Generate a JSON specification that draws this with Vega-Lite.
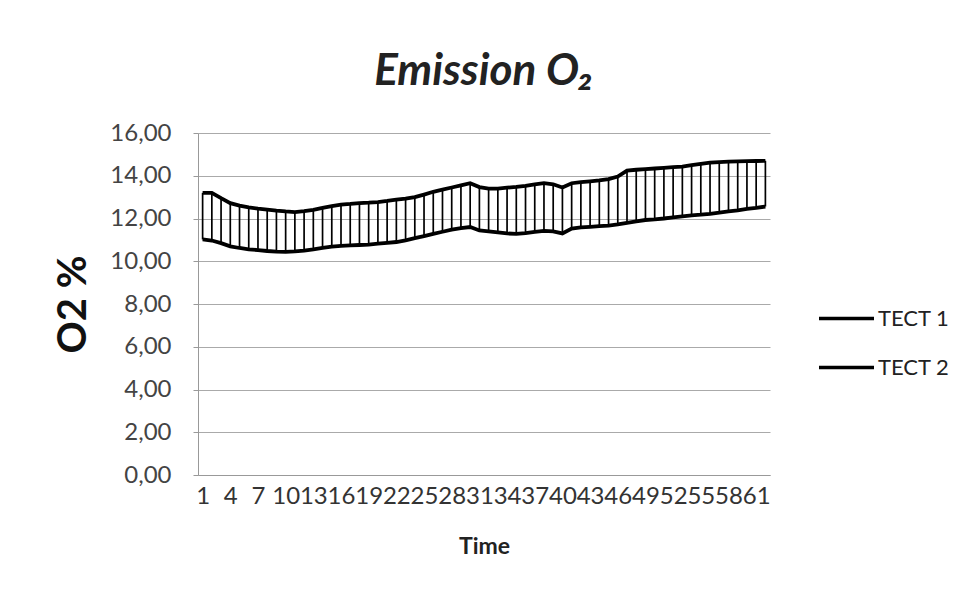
{
  "$schema": "https://vega.github.io/schema/vega-lite/v6.json",
  "width": 572,
  "height": 342,
  "autosize": "none",
  "padding": {"left": 198, "top": 133, "right": 196, "bottom": 116},
  "background": "white",
  "config": {"font": "Lato", "view": {"stroke": null}},
  "title": {"text": "Emission O₂", "font": "Lato", "fontSize": 44, "fontStyle": "italic", "fontWeight": "bold", "color": "#222", "offset": 27, "anchor": "middle"},
  "data": {"values": [
    {"time": 1, "TECT 1": 13.2, "TECT 2": 11.02},
    {"time": 2, "TECT 1": 13.2, "TECT 2": 10.97},
    {"time": 3, "TECT 1": 12.95, "TECT 2": 10.85},
    {"time": 4, "TECT 1": 12.72, "TECT 2": 10.7},
    {"time": 5, "TECT 1": 12.6, "TECT 2": 10.62},
    {"time": 6, "TECT 1": 12.52, "TECT 2": 10.56},
    {"time": 7, "TECT 1": 12.46, "TECT 2": 10.52},
    {"time": 8, "TECT 1": 12.42, "TECT 2": 10.48},
    {"time": 9, "TECT 1": 12.37, "TECT 2": 10.45},
    {"time": 10, "TECT 1": 12.33, "TECT 2": 10.44},
    {"time": 11, "TECT 1": 12.3, "TECT 2": 10.46},
    {"time": 12, "TECT 1": 12.34, "TECT 2": 10.5},
    {"time": 13, "TECT 1": 12.4, "TECT 2": 10.56},
    {"time": 14, "TECT 1": 12.5, "TECT 2": 10.63},
    {"time": 15, "TECT 1": 12.58, "TECT 2": 10.68},
    {"time": 16, "TECT 1": 12.65, "TECT 2": 10.72},
    {"time": 17, "TECT 1": 12.68, "TECT 2": 10.74},
    {"time": 18, "TECT 1": 12.72, "TECT 2": 10.76},
    {"time": 19, "TECT 1": 12.74, "TECT 2": 10.78},
    {"time": 20, "TECT 1": 12.77, "TECT 2": 10.82},
    {"time": 21, "TECT 1": 12.82, "TECT 2": 10.86},
    {"time": 22, "TECT 1": 12.88, "TECT 2": 10.9},
    {"time": 23, "TECT 1": 12.93, "TECT 2": 10.98},
    {"time": 24, "TECT 1": 13.0, "TECT 2": 11.08},
    {"time": 25, "TECT 1": 13.12, "TECT 2": 11.18},
    {"time": 26, "TECT 1": 13.25, "TECT 2": 11.28},
    {"time": 27, "TECT 1": 13.35, "TECT 2": 11.38},
    {"time": 28, "TECT 1": 13.45, "TECT 2": 11.48},
    {"time": 29, "TECT 1": 13.55, "TECT 2": 11.55},
    {"time": 30, "TECT 1": 13.65, "TECT 2": 11.6},
    {"time": 31, "TECT 1": 13.47, "TECT 2": 11.44},
    {"time": 32, "TECT 1": 13.4, "TECT 2": 11.4},
    {"time": 33, "TECT 1": 13.4, "TECT 2": 11.35},
    {"time": 34, "TECT 1": 13.44, "TECT 2": 11.3},
    {"time": 35, "TECT 1": 13.48, "TECT 2": 11.28},
    {"time": 36, "TECT 1": 13.53, "TECT 2": 11.32},
    {"time": 37, "TECT 1": 13.6, "TECT 2": 11.37},
    {"time": 38, "TECT 1": 13.65, "TECT 2": 11.42},
    {"time": 39, "TECT 1": 13.6, "TECT 2": 11.4},
    {"time": 40, "TECT 1": 13.45, "TECT 2": 11.3},
    {"time": 41, "TECT 1": 13.65, "TECT 2": 11.53},
    {"time": 42, "TECT 1": 13.7, "TECT 2": 11.58},
    {"time": 43, "TECT 1": 13.74, "TECT 2": 11.61},
    {"time": 44, "TECT 1": 13.78, "TECT 2": 11.64},
    {"time": 45, "TECT 1": 13.84, "TECT 2": 11.67},
    {"time": 46, "TECT 1": 13.96, "TECT 2": 11.72},
    {"time": 47, "TECT 1": 14.24, "TECT 2": 11.8},
    {"time": 48, "TECT 1": 14.28, "TECT 2": 11.87},
    {"time": 49, "TECT 1": 14.31, "TECT 2": 11.93},
    {"time": 50, "TECT 1": 14.34, "TECT 2": 11.96},
    {"time": 51, "TECT 1": 14.37, "TECT 2": 12.0},
    {"time": 52, "TECT 1": 14.4, "TECT 2": 12.05},
    {"time": 53, "TECT 1": 14.43, "TECT 2": 12.1},
    {"time": 54, "TECT 1": 14.5, "TECT 2": 12.15},
    {"time": 55, "TECT 1": 14.56, "TECT 2": 12.18},
    {"time": 56, "TECT 1": 14.61, "TECT 2": 12.22},
    {"time": 57, "TECT 1": 14.64, "TECT 2": 12.27},
    {"time": 58, "TECT 1": 14.66, "TECT 2": 12.33},
    {"time": 59, "TECT 1": 14.67, "TECT 2": 12.38},
    {"time": 60, "TECT 1": 14.68, "TECT 2": 12.45},
    {"time": 61, "TECT 1": 14.69, "TECT 2": 12.5},
    {"time": 62, "TECT 1": 14.7, "TECT 2": 12.56}
  ]},
  "layer": [
    {
      "mark": {"type": "rule", "color": "black", "strokeWidth": 1.7},
      "encoding": {
        "x": {
          "field": "time", "type": "ordinal",
          "scale": {"type": "point", "padding": 0.5},
          "axis": {
            "values": [1, 4, 7, 10, 13, 16, 19, 22, 25, 28, 31, 34, 37, 40, 43, 46, 49, 52, 55, 58, 61],
            "labelAngle": 0, "labelFontSize": 24, "labelColor": "#333", "labelOverlap": false,
            "labelPadding": 9, "ticks": false, "domainColor": "#999", "grid": false,
            "title": "Time", "titleFontSize": 23, "titleFontWeight": "bold", "titleColor": "#222", "titlePadding": 27
          }
        },
        "y": {
          "field": "TECT 2", "type": "quantitative",
          "scale": {"domain": [0, 16]},
          "axis": {
            "values": [0, 2, 4, 6, 8, 10, 12, 14, 16],
            "labelExpr": "replace(format(datum.value, '.2f'), '.', ',')",
            "labelFontSize": 24, "labelColor": "#444", "labelPadding": 22,
            "tickSize": 5, "tickColor": "#999", "domainColor": "#999",
            "gridColor": "#aaa", "gridWidth": 1,
            "title": "O2 %", "titleFontSize": 40, "titleFontWeight": "bold", "titleColor": "#111", "titlePadding": 16
          }
        },
        "y2": {"field": "TECT 1"}
      }
    },
    {
      "transform": [{"fold": ["TECT 1", "TECT 2"], "as": ["series", "value"]}],
      "mark": {"type": "line", "strokeWidth": 3.8},
      "encoding": {
        "x": {"field": "time", "type": "ordinal", "scale": {"type": "point", "padding": 0.5}},
        "y": {"field": "value", "type": "quantitative"},
        "color": {
          "field": "series", "type": "nominal",
          "scale": {"domain": ["TECT 1", "TECT 2"], "range": ["black", "black"]},
          "legend": {
            "title": null, "orient": "none", "legendX": 619, "legendY": 156,
            "symbolType": "stroke", "symbolSize": 3025, "symbolStrokeWidth": 3.5,
            "labelFontSize": 22, "labelColor": "#222", "labelOffset": 2,
            "rowPadding": 8, "padding": 0
          }
        }
      }
    }
  ]
}
